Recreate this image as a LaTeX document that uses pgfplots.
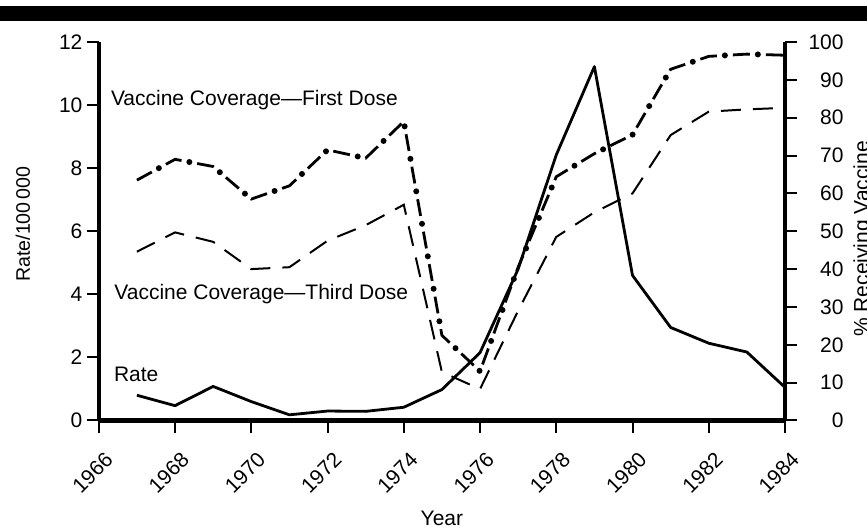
\documentclass[border=0pt]{standalone}
\usepackage{fontspec}
\setmainfont{Liberation Sans}
\usepackage{pgfplots}
\pgfplotsset{compat=1.18}
\usepackage{pgfplotstable}

\pgfplotstableread{
year rate
1967 0.80
1968 0.47
1969 1.08
1970 0.60
1971 0.18
1972 0.30
1973 0.29
1974 0.42
1975 0.98
1976 2.15
1977 4.80
1978 8.42
1979 11.22
1980 4.60
1981 2.95
1982 2.45
1983 2.17
1984 1.05
}\ratetable

\pgfplotstableread{
year first
1967 63.5
1968 69.0
1969 67.1
1970 58.5
1971 62.0
1972 71.5
1973 69.3
1974 79.0
1975 22.5
1976 13.0
1977 40.5
1978 64.4
1979 70.5
1980 75.5
1981 92.8
1982 96.2
1983 96.8
1984 96.5
}\firsttable

\pgfplotstableread{
year third
1967 44.6
1968 49.7
1969 47.2
1970 40.0
1971 40.5
1972 47.5
1973 51.6
1974 57.0
1975 12.8
1976 8.3
1977 29.0
1978 48.5
1979 55.0
1980 60.0
1981 75.4
1982 81.6
1983 82.2
1984 82.6
}\thirdtable

\pgfplotsset{
  common/.style={
    scale only axis, width=343.1pt, height=189.25pt,
    at={(0,0)}, anchor=south west,
    xmin=1966, xmax=1984,
    tick align=outside, major tick length=6pt,
    major tick style={black, line width=1pt},
    tick label style={font=\fontsize{10.5}{12}\selectfont},
    label style={font=\fontsize{10.5}{12}\selectfont},
    /pgf/number format/assume math mode=true,
    /pgf/number format/1000 sep={},
    axis line style={line width=2.2pt, -},
    clip=false,
  }
}

\begin{document}
\begin{tikzpicture}
\begin{axis}[common,
  axis x line*=bottom, axis y line*=left,
  ymin=0, ymax=12,
  xtick={1966,1968,...,1984},
  ytick={0,2,...,12},
  xticklabel style={xshift=2.5pt, yshift=-9pt, rotate=45, anchor=north east, inner sep=0pt},
  yticklabel style={anchor=east, inner sep=0pt, xshift=-2pt},
  xlabel={Year},
  xlabel style={at={(axis description cs:0.5,0)}, anchor=base, yshift=-52.5pt, inner sep=0pt},
  ylabel={Rate/100\,000},
  ylabel style={at={(axis description cs:-0.1105,0.519)}, anchor=center, inner sep=0pt, font=\fontsize{9.8}{12}\selectfont},
]
\addplot[black, line width=1.4pt, line join=round] table[x=year, y=rate] {\ratetable};
\node[anchor=base west, inner sep=0pt, font=\fontsize{10.5}{12}\selectfont] at (axis cs:1966.31,10.0) {Vaccine Coverage—First Dose};
\node[anchor=base west, inner sep=0pt, font=\fontsize{10.5}{12}\selectfont] at (axis cs:1966.40,3.85) {Vaccine Coverage—Third Dose};
\node[anchor=base west, inner sep=0pt, font=\fontsize{10.5}{12}\selectfont] at (axis cs:1966.39,1.25) {Rate};
\end{axis}
\begin{axis}[common,
  axis y line*=right, axis x line=none,
  ymin=0, ymax=100,
  ytick={0,10,...,100},
  yticklabel style={anchor=east, inner sep=0pt, xshift=23.5pt},
  ylabel={\% Receiving Vaccine},
  ylabel style={at={(axis description cs:1.099,0.48)}, anchor=north, inner sep=0pt},
]
\addplot[black, line width=1pt, dash pattern=on 10pt off 6pt] table[x=year, y=third] {\thirdtable};
\addplot[black, line width=1.4pt, dash pattern=on 8.5pt off 8pt] table[x=year, y=first] {\firsttable};
\addplot[black, line width=3pt, line cap=round, dash pattern=on 0pt off 16.5pt, dash phase=4pt] table[x=year, y=first] {\firsttable};
\end{axis}
\fill[black] (-49.4pt,199.75pt) rectangle (384.1pt,207.25pt);
\pgfresetboundingbox
\useasboundingbox (-49.4pt,-54.25pt) rectangle (384.1pt,210.25pt);
\end{tikzpicture}
\end{document}
